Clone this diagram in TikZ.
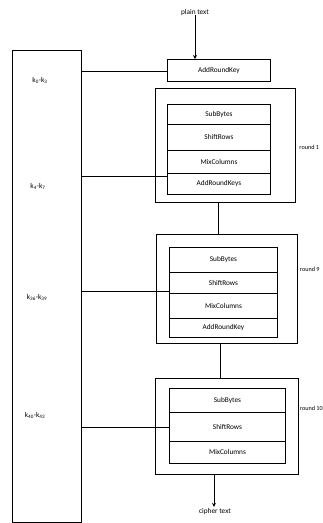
\documentclass[tikz,border=0pt]{standalone}
\usepackage{fontspec}
\setmainfont{Carlito}
\usetikzlibrary{arrows.meta}
\begin{document}
\begin{tikzpicture}[x=1pt,y=-1pt,
  line width=0.9pt,
  every node/.style={font=\fontsize{7.3}{8}\selectfont, inner sep=0pt},
  opbox/.style={draw, rectangle, anchor=north west},
  roundbox/.style={draw, rectangle, anchor=north west},
  lbl/.style={anchor=center},
  rlbl/.style={anchor=west, font=\fontsize{6.2}{7}\selectfont},
  arr/.style={-{Stealth[length=4pt,width=4pt]}, line width=0.9pt}]
\useasboundingbox (0,0) rectangle (322,523);
% key schedule box
\node[roundbox, minimum width=69pt, minimum height=472pt] (keys) at (11.5,50) {};
\node[lbl] (k1) at (40,80) {k\textsubscript{0}-k\textsubscript{3}};
\node[lbl] (k2) at (38,186) {k\textsubscript{4}-k\textsubscript{7}};
\node[lbl] (k3) at (37,297) {k\textsubscript{36}-k\textsubscript{39}};
\node[lbl] (k4) at (35,415) {k\textsubscript{40}-k\textsubscript{43}};
% plain text
\node[lbl] (pt) at (195,13) {plain text};
\node[opbox, minimum width=103pt, minimum height=22pt] (ark0) at (167,59) {AddRoundKey};
\draw[arr] (pt.south) ++(0,-1.5) -- (pt.south |- ark0.north);
\draw (keys.east |- 0,71) -- (ark0.west |- 0,71);
% round 1
\node[roundbox, minimum width=140pt, minimum height=114pt] (r1) at (155,88) {};
\node[opbox, minimum width=103pt, minimum height=20pt] (r1a) at (167,104) {SubBytes};
\node[opbox, minimum width=103pt, minimum height=26pt] (r1b) at (167,124) {ShiftRows};
\node[opbox, minimum width=103pt, minimum height=23pt] (r1c) at (167,150) {MixColumns};
\node[opbox, minimum width=103pt, minimum height=21pt] (r1d) at (167,173) {AddRoundKeys};
\node[rlbl] (l1) at (299,147) {round 1};
\draw (keys.east |- 0,176) -- (r1d.west |- 0,176);
% round 9
\node[roundbox, minimum width=141pt, minimum height=109pt] (r9) at (156,234) {};
\node[opbox, minimum width=108pt, minimum height=25pt] (r9a) at (169,247) {SubBytes};
\node[opbox, minimum width=108pt, minimum height=21pt] (r9b) at (169,272) {ShiftRows};
\node[opbox, minimum width=108pt, minimum height=25pt] (r9c) at (169,293) {MixColumns};
\node[opbox, minimum width=108pt, minimum height=19pt] (r9d) at (169,318) {AddRoundKey};
\node[rlbl] (l9) at (299.5,269) {round 9};
\draw (keys.east |- 0,291) -- (r9b.west |- 0,291);
\draw (r1.south -| 218,0) -- (r9.north -| 218,0);
% round 10
\node[roundbox, minimum width=143pt, minimum height=96pt] (r10) at (155,378) {};
\node[opbox, minimum width=116pt, minimum height=24pt] (r10a) at (169,388) {SubBytes};
\node[opbox, minimum width=116pt, minimum height=29pt] (r10b) at (169,412) {ShiftRows};
\node[opbox, minimum width=116pt, minimum height=22pt] (r10c) at (169,441) {MixColumns};
\node[rlbl] (l10) at (299.5,408) {round 10};
\draw (keys.east |- 0,427) -- (r10b.west |- 0,427);
\draw (r9.south -| 220,0) -- (r10.north -| 220,0);
% cipher text
\node[lbl] (ct) at (215,512) {cipher text};
\draw[arr] (r10.south -| 214,0) -- ([yshift=1.5pt]ct.north -| 214,0);
\end{tikzpicture}
\end{document}
